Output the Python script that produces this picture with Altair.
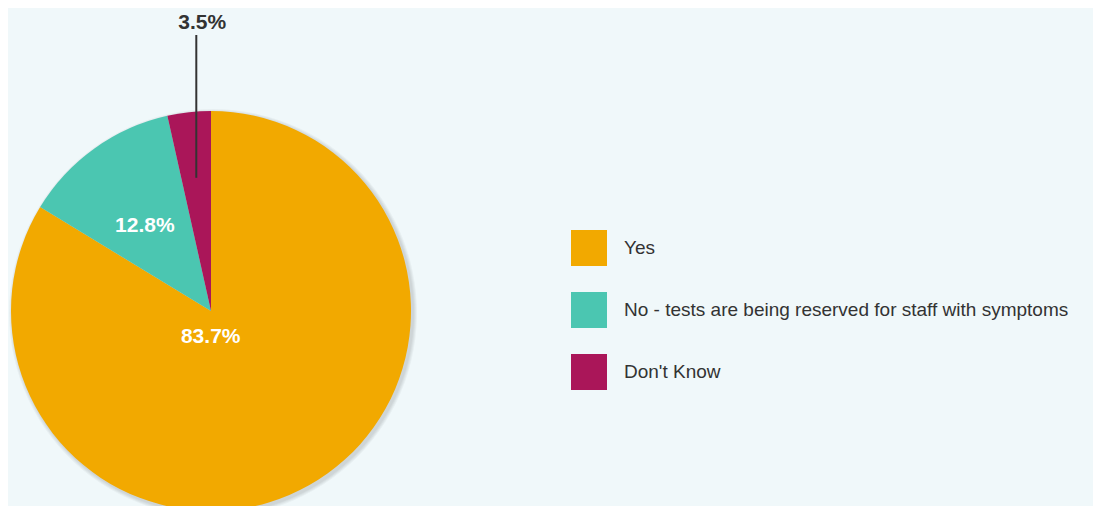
import altair as alt
import pandas as pd

categories = ["Yes", "No - tests are being reserved for staff with symptoms", "Don't Know"]
values = [83.7, 12.8, 3.5]
colors = ["#F2A900", "#4BC6B1", "#AA1659"]

# label layout (radius from centre along mid-angle, extra horizontal shift)
label_radius = [30, 105, 290]
label_dx = [-15, -5, 23]
inside = [True, True, False]

df = pd.DataFrame({
    "category": categories,
    "value": values,
    "order": list(range(len(categories))),
    "lr": label_radius,
    "ldx": label_dx,
    "inside": inside,
})

W, H = 1085, 498
CX, CY, R = 203, 303, 200
BG = "#F0F8FA"

base = alt.Chart(df).transform_joinaggregate(
    total="sum(value)"
).transform_window(
    cum="sum(value)", sort=[alt.SortField("order")], frame=[None, 0]
).transform_calculate(
    mid="(datum.cum - datum.value / 2) / datum.total * 2 * PI",
    label="format(datum.value, '.1f') + '%'",
).transform_calculate(
    lx=f"{CX} + datum.lr * sin(datum.mid) + datum.ldx",
    ly=f"{CY} - datum.lr * cos(datum.mid)",
    rx=f"{CX} + 134 * sin(datum.mid)",
    ry=f"{CY} - 134 * cos(datum.mid)",
    ry2=f"{CY} - 276",
)

# soft drop shadow (several faint rings)
shadows = [
    base.mark_arc(radius=R + k, color="#000000", opacity=0.035).encode(
        theta=alt.Theta("value:Q", stack=True),
        order=alt.Order("order:Q"),
        x=alt.value(CX + 2),
        y=alt.value(CY + 2),
    )
    for k in (4, 3, 2, 1)
]

pie = base.mark_arc(radius=R, strokeWidth=0).encode(
    theta=alt.Theta("value:Q", stack=True),
    order=alt.Order("order:Q"),
    color=alt.Color(
        "category:N",
        scale=alt.Scale(domain=categories, range=colors),
        legend=alt.Legend(
            title=None,
            orient="none",
            legendX=563,
            legendY=222,
            symbolType="square",
            symbolSize=1296,
            symbolStrokeWidth=0,
            symbolOpacity=1,
            labelFontSize=19,
            labelFont="Liberation Sans",
            labelColor="#333333",
            labelLimit=700,
            labelOffset=17,
            rowPadding=26,
        ),
    ),
    x=alt.value(CX),
    y=alt.value(CY),
)

leader = base.transform_filter("!datum.inside").mark_rule(
    color="#333333", strokeWidth=2
).encode(
    x=alt.X("rx:Q", scale=None),
    y=alt.Y("ry:Q", scale=None),
    y2="ry2:Q",
)

text_in = base.transform_filter("datum.inside").mark_text(
    font="Liberation Sans", fontSize=21, fontWeight="bold", color="white",
    align="center", baseline="middle",
).encode(
    x=alt.X("lx:Q", scale=None),
    y=alt.Y("ly:Q", scale=None),
    text="label:N",
)

text_out = base.transform_filter("!datum.inside").mark_text(
    font="Liberation Sans", fontSize=21, fontWeight="bold", color="#333333",
    align="center", baseline="middle",
).encode(
    x=alt.X("lx:Q", scale=None),
    y=alt.Y("ly:Q", scale=None),
    text="label:N",
)

chart = alt.layer(*shadows, pie, leader, text_in, text_out).properties(
    width=W, height=H, background=BG, padding=0,
    autosize=alt.AutoSizeParams(type="none"),
).configure_view(stroke=None)

chart.save("out.html", embed_options={"renderer": "svg", "actions": False})
